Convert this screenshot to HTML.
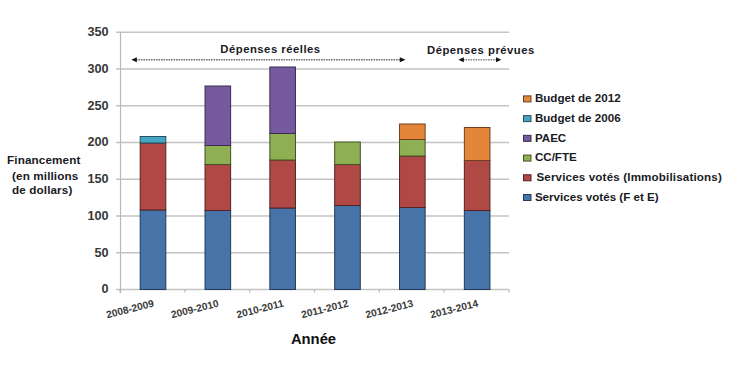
<!DOCTYPE html>
<html><head><meta charset="utf-8"><style>
html,body{margin:0;padding:0;background:#fff;width:750px;height:377px;overflow:hidden}
svg{display:block}
text{font-family:"Liberation Sans",sans-serif}
</style></head><body>
<svg width="750" height="377" viewBox="0 0 750 377">
<rect width="750" height="377" fill="#fff"/>
<g stroke="#c3c3c3" stroke-width="1.5"><line x1="116" y1="289.50" x2="509" y2="289.50"/><line x1="116" y1="252.75" x2="509" y2="252.75"/><line x1="116" y1="216.01" x2="509" y2="216.01"/><line x1="116" y1="179.26" x2="509" y2="179.26"/><line x1="116" y1="142.52" x2="509" y2="142.52"/><line x1="116" y1="105.78" x2="509" y2="105.78"/><line x1="116" y1="69.03" x2="509" y2="69.03"/><line x1="116" y1="32.29" x2="509" y2="32.29"/></g>
<g stroke="#b8b8b8" stroke-width="1.2"><line x1="120.5" y1="32" x2="120.5" y2="293"/><line x1="120.00" y1="289.5" x2="120.00" y2="292.5"/><line x1="184.83" y1="289.5" x2="184.83" y2="292.5"/><line x1="249.66" y1="289.5" x2="249.66" y2="292.5"/><line x1="314.49" y1="289.5" x2="314.49" y2="292.5"/><line x1="379.32" y1="289.5" x2="379.32" y2="292.5"/><line x1="444.15" y1="289.5" x2="444.15" y2="292.5"/><line x1="508.98" y1="289.5" x2="508.98" y2="292.5"/></g>
<g><rect x="140.20" y="210" width="25.6" height="79.50" fill="#4673a8" stroke="#233a58" stroke-width="1"/><rect x="140.20" y="143" width="25.6" height="67.00" fill="#b04846" stroke="#552222" stroke-width="1"/><rect x="140.20" y="136.5" width="25.6" height="6.50" fill="#46a5c2" stroke="#22505e" stroke-width="1"/><rect x="205.03" y="210.5" width="25.6" height="79.00" fill="#4673a8" stroke="#233a58" stroke-width="1"/><rect x="205.03" y="164.5" width="25.6" height="46.00" fill="#b04846" stroke="#552222" stroke-width="1"/><rect x="205.03" y="145.5" width="25.6" height="19.00" fill="#8fb052" stroke="#435225" stroke-width="1"/><rect x="205.03" y="86" width="25.6" height="59.50" fill="#765a9f" stroke="#3a2c50" stroke-width="1"/><rect x="269.86" y="208" width="25.6" height="81.50" fill="#4673a8" stroke="#233a58" stroke-width="1"/><rect x="269.86" y="160" width="25.6" height="48.00" fill="#b04846" stroke="#552222" stroke-width="1"/><rect x="269.86" y="133.5" width="25.6" height="26.50" fill="#8fb052" stroke="#435225" stroke-width="1"/><rect x="269.86" y="67" width="25.6" height="66.50" fill="#765a9f" stroke="#3a2c50" stroke-width="1"/><rect x="334.69" y="205.5" width="25.6" height="84.00" fill="#4673a8" stroke="#233a58" stroke-width="1"/><rect x="334.69" y="164.5" width="25.6" height="41.00" fill="#b04846" stroke="#552222" stroke-width="1"/><rect x="334.69" y="142" width="25.6" height="22.50" fill="#8fb052" stroke="#435225" stroke-width="1"/><rect x="399.52" y="207.5" width="25.6" height="82.00" fill="#4673a8" stroke="#233a58" stroke-width="1"/><rect x="399.52" y="156" width="25.6" height="51.50" fill="#b04846" stroke="#552222" stroke-width="1"/><rect x="399.52" y="139.5" width="25.6" height="16.50" fill="#8fb052" stroke="#435225" stroke-width="1"/><rect x="399.52" y="124" width="25.6" height="15.50" fill="#e3863a" stroke="#6e4020" stroke-width="1"/><rect x="464.35" y="210.5" width="25.6" height="79.00" fill="#4673a8" stroke="#233a58" stroke-width="1"/><rect x="464.35" y="160.5" width="25.6" height="50.00" fill="#b04846" stroke="#552222" stroke-width="1"/><rect x="464.35" y="127.5" width="25.6" height="33.00" fill="#e3863a" stroke="#6e4020" stroke-width="1"/></g>
<g font-size="12.7" font-weight="700" fill="#383838" text-anchor="end"><text x="108.6" y="293.30">0</text><text x="108.6" y="256.56">50</text><text x="108.6" y="219.81">100</text><text x="108.6" y="183.06">150</text><text x="108.6" y="146.32">200</text><text x="108.6" y="109.58">250</text><text x="108.6" y="72.83">300</text><text x="108.6" y="36.09">350</text></g>
<g font-size="10.2" font-weight="700" fill="#3a3a3a"><text transform="translate(154.50,306.5) rotate(-14)" text-anchor="end">2008-2009</text><text transform="translate(219.33,306.5) rotate(-14)" text-anchor="end">2009-2010</text><text transform="translate(284.16,306.5) rotate(-14)" text-anchor="end">2010-2011</text><text transform="translate(348.99,306.5) rotate(-14)" text-anchor="end">2011-2012</text><text transform="translate(413.82,306.5) rotate(-14)" text-anchor="end">2012-2013</text><text transform="translate(478.65,306.5) rotate(-14)" text-anchor="end">2013-2014</text></g>
<g font-size="11.7" font-weight="700" fill="#1a1a24" letter-spacing="0.12">
<text x="7" y="163.9">Financement</text>
<text x="12" y="180.2">(en millions</text>
<text x="12" y="194.4">de dollars)</text>
</g>
<text x="313.5" y="344" font-size="14.8" font-weight="700" fill="#111" text-anchor="middle">Année</text>
<g font-size="11.6" font-weight="700" fill="#1a1a24"><rect x="523.5" y="95.90" width="7.5" height="6" fill="#e3863a" stroke="#6e4020" stroke-width="1"/><text x="534.9" y="102.20">Budget de 2012</text><rect x="523.5" y="115.62" width="7.5" height="6" fill="#46a5c2" stroke="#22505e" stroke-width="1"/><text x="534.9" y="121.92">Budget de 2006</text><rect x="523.5" y="135.34" width="7.5" height="6" fill="#765a9f" stroke="#3a2c50" stroke-width="1"/><text x="534.9" y="141.64">PAEC</text><rect x="523.5" y="155.06" width="7.5" height="6" fill="#8fb052" stroke="#435225" stroke-width="1"/><text x="534.9" y="161.36">CC/FTE</text><rect x="523.5" y="174.78" width="7.5" height="6" fill="#b04846" stroke="#552222" stroke-width="1"/><text x="536.4" y="181.08" letter-spacing="0.16">Services votés (Immobilisations)</text><rect x="523.5" y="194.50" width="7.5" height="6" fill="#4673a8" stroke="#233a58" stroke-width="1"/><text x="534.9" y="200.80">Services votés (F et E)</text></g>
<g font-size="11.3" font-weight="700" fill="#1a1a24" letter-spacing="0.5">
<text x="220.3" y="53.2">Dépenses réelles</text>
<text x="427" y="54.3">Dépenses prévues</text>
</g>
<g stroke-width="1.5" stroke-dasharray="1.6,0.9">
<line x1="136" y1="59.7" x2="400" y2="59.7" stroke="#707070"/>
<line x1="463" y1="59.8" x2="496.5" y2="59.8" stroke="#8a8a8a"/>
</g>
<g fill="#111">
<path d="M131.4 59.7 L136.8 57.2 L136.8 62.2 Z"/>
<path d="M405.5 59.7 L399.8 57.2 L399.8 62.2 Z"/>
<path d="M458.4 59.8 L463.8 57.3 L463.8 62.3 Z"/>
<path d="M501.3 59.8 L496 57.3 L496 62.3 Z"/>
</g>
</svg>
</body></html>
